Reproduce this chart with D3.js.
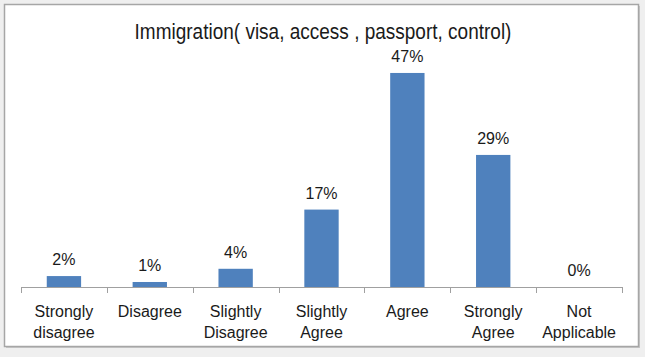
<!DOCTYPE html>
<html><head><meta charset="utf-8">
<script src="https://cdn.jsdelivr.net/npm/d3@7"></script>
<style>
html,body{margin:0;padding:0;background:#efefef;}
svg{display:block;font-family:"Liberation Sans",Arial,sans-serif;}
</style></head>
<body>
<svg id="chart" width="645" height="357"></svg>
<script>
const title = "Immigration( visa, access , passport, control)";
const categories = [["Strongly","disagree"],["Disagree"],["Slightly","Disagree"],["Slightly","Agree"],["Agree"],["Strongly","Agree"],["Not","Applicable"]];
const values = [2.4, 1.1, 4, 17, 47, 29, 0];
const labels = ["2%","1%","4%","17%","47%","29%","0%"];

const svg = d3.select("#chart");
// frame
svg.append("rect").attr("x",6).attr("y",6).attr("width",634).attr("height",342).attr("fill","#c8c8c8");
svg.append("rect").attr("x",4.5).attr("y",4.5).attr("width",634).attr("height",342)
  .attr("fill","#fff").attr("stroke","#a6a6a6").attr("stroke-width",1.5);

const x0 = 21, x1 = 622, base = 287;
const x = d3.scaleBand().domain(d3.range(categories.length)).range([x0,x1]).paddingInner(0.6).paddingOuter(0.3);
const y = d3.scaleLinear().domain([0,50]).range([base, base-227.7]);

svg.append("text").attr("transform","translate(323,39) scale(1,1.15)").attr("text-anchor","middle")
  .attr("font-size",19).attr("fill","#1a1a1a").text(title);

svg.selectAll("rect.bar").data(values).join("rect").attr("class","bar")
  .attr("x",(d,i)=>x(i)).attr("width",x.bandwidth())
  .attr("y",d=>y(d)).attr("height",d=>base-y(d)).attr("fill","#4f81bd");

svg.selectAll("text.val").data(values).join("text").attr("class","val")
  .attr("transform",(d,i)=>`translate(${x(i)+x.bandwidth()/2},${y(d)-11}) scale(1,1.08)`)
  .attr("text-anchor","middle").attr("font-size",16).attr("fill","#1a1a1a")
  .text((d,i)=>labels[i]);

// axis
const step = (x1-x0)/categories.length;
const ax = svg.append("g").attr("stroke","#a0a0a0").attr("stroke-width",1);
ax.append("line").attr("x1",x0).attr("x2",x1).attr("y1",base+0.5).attr("y2",base+0.5);
ax.selectAll("line.tick").data(d3.range(categories.length+1)).join("line").attr("class","tick")
  .attr("x1",i=>Math.round(x0+i*step)+0.5).attr("x2",i=>Math.round(x0+i*step)+0.5)
  .attr("y1",base).attr("y2",base+6);

const cl = svg.selectAll("text.cat").data(categories).join("text").attr("class","cat")
  .attr("text-anchor","middle").attr("font-size",16).attr("fill","#1a1a1a");
cl.selectAll("tspan").data((d,i)=>d.map(t=>({t,i}))).join("tspan")
  .attr("x",d=>x(d.i)+x.bandwidth()/2).attr("y",(d,j)=>317+j*21).text(d=>d.t);
</script>
</body></html>
